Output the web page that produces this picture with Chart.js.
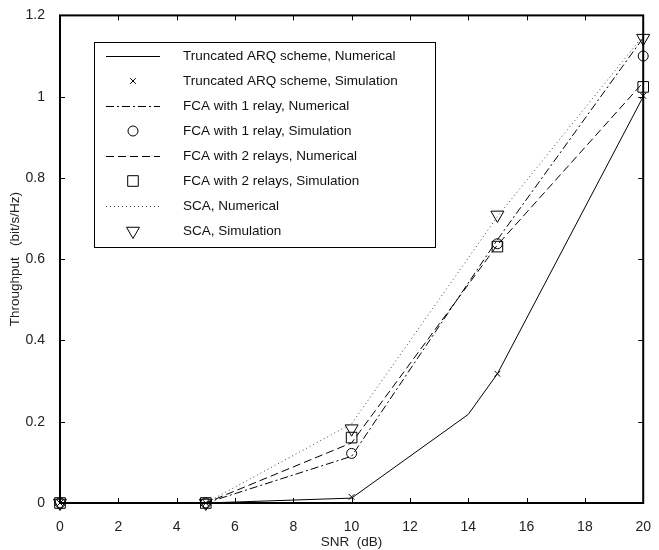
<!DOCTYPE html>
<html>
<head>
<meta charset="utf-8">
<script src="https://cdn.jsdelivr.net/npm/chart.js@4/dist/chart.umd.min.js"></script>
<style>
  html, body { margin: 0; padding: 0; background: #fff; }
  #wrap { width: 659px; height: 550px; }
</style>
</head>
<body>
<div id="wrap"><canvas id="chart" width="659" height="550"></canvas></div>
<script>
// SNR points (dB)
const snrSim = [0, 5, 10, 15, 20];
const snrArqNum = [0, 5, 10, 14, 15, 20];

// Numerical curves
const arqNum = [0, 0, 0.012, 0.218, 0.318, 1.0];
const fca1Num = [0, 0, 0.115, 0.648, 1.145];
const fca2Num = [0, 0, 0.148, 0.635, 1.035];
const scaNum = [0, 0, 0.195, 0.705, 1.15];

// Simulation points
const arqSim = [0, 0, 0.015, 0.318, 1.002];
const fca1Sim = [0, 0, 0.122, 0.638, 1.10];
const fca2Sim = [0, 0, 0.161, 0.631, 1.024];
const scaSim = [0, 0, 0.183, 0.709, 1.144];

// Axis ticks
const xTicks = [0, 2, 4, 6, 8, 10, 12, 14, 16, 18, 20];
const yTicks = [0, 0.2, 0.4, 0.6, 0.8, 1.0, 1.2];

const FONT = 'Arial, "Liberation Sans", sans-serif';

function pts(xs, ys) {
  return xs.map((x, i) => ({ x, y: ys[i] }));
}

function numLine(label, xs, ys, dash, color) {
  return {
    label,
    data: pts(xs, ys),
    borderColor: color || '#000',
    borderWidth: 1,
    borderDash: dash,
    pointRadius: 0,
    fill: false,
    tension: 0,
  };
}

function simPoints(label, ys, style, radius, rotation) {
  return {
    label,
    data: pts(snrSim, ys),
    showLine: false,
    pointStyle: style,
    pointRadius: radius,
    pointRotation: rotation || 0,
    pointBorderColor: '#000',
    pointBackgroundColor: 'rgba(0,0,0,0)',
    pointBorderWidth: 1,
    clip: false,
  };
}

// Inward ticks and full frame, MATLAB style
const framePlugin = {
  id: 'frame',
  afterDatasetsDraw(chart) {
    const { ctx, chartArea: a, scales } = chart;
    ctx.save();
    ctx.strokeStyle = '#000';
    ctx.lineWidth = 1;
    ctx.beginPath();
    xTicks.forEach((v) => {
      const px = Math.round(scales.x.getPixelForValue(v)) + 0.5;
      ctx.moveTo(px, a.bottom); ctx.lineTo(px, a.bottom - 5);
      ctx.moveTo(px, a.top); ctx.lineTo(px, a.top + 5);
    });
    yTicks.forEach((v) => {
      const py = Math.round(scales.y.getPixelForValue(v)) + 0.5;
      ctx.moveTo(a.left, py); ctx.lineTo(a.left + 5, py);
      ctx.moveTo(a.right, py); ctx.lineTo(a.right - 5, py);
    });
    ctx.stroke();
    ctx.lineWidth = 2;
    ctx.strokeRect(a.left, a.top, a.right - a.left, a.bottom - a.top);
    ctx.restore();
  },
};

// Boxed legend inside the plot
const boxLegendPlugin = {
  id: 'boxLegend',
  afterDraw(chart) {
    const { ctx } = chart;
    ctx.save();
    ctx.fillStyle = '#fff';
    ctx.fillRect(94.5, 42.5, 341, 205);
    ctx.strokeStyle = '#000';
    ctx.lineWidth = 1;
    ctx.strokeRect(94.5, 42.5, 341, 205);
    chart.data.datasets.forEach((ds, i) => {
      const y = 56 + 25 * i;
      ctx.strokeStyle = '#000';
      if (ds.showLine === false) {
        ctx.fillStyle = 'rgba(0,0,0,0)';
        Chart.helpers.drawPoint(ctx, {
          pointStyle: ds.pointStyle,
          radius: ds.pointRadius,
          rotation: ds.pointRotation,
          borderWidth: 1,
        }, 133, y);
      } else {
        ctx.strokeStyle = ds.borderColor;
        ctx.lineWidth = 1;
        ctx.setLineDash(ds.borderDash || []);
        ctx.beginPath();
        ctx.moveTo(106, y + 0.5);
        ctx.lineTo(160, y + 0.5);
        ctx.stroke();
        ctx.setLineDash([]);
      }
      ctx.fillStyle = '#111';
      ctx.font = '13.5px ' + FONT;
      ctx.textAlign = 'left';
      ctx.textBaseline = 'middle';
      ctx.fillText(ds.label, 183, y);
    });
    ctx.restore();
  },
};

const ctx = document.getElementById('chart');
new Chart(ctx, {
  type: 'line',
  data: {
    datasets: [
      numLine('Truncated ARQ scheme, Numerical', snrArqNum, arqNum, []),
      simPoints('Truncated ARQ scheme, Simulation', arqSim, 'crossRot', 4),
      numLine('FCA with 1 relay, Numerical', snrSim, fca1Num, [8, 3, 2, 3]),
      simPoints('FCA with 1 relay, Simulation', fca1Sim, 'circle', 5),
      numLine('FCA with 2 relays, Numerical', snrSim, fca2Num, [8, 4]),
      simPoints('FCA with 2 relays, Simulation', fca2Sim, 'rect', 7.5),
      numLine('SCA, Numerical', snrSim, scaNum, [1, 3], '#444'),
      simPoints('SCA, Simulation', scaSim, 'triangle', 7.5, 180),
    ],
  },
  options: {
    responsive: false,
    animation: false,
    events: [],
    layout: { padding: { left: 0, right: 9, top: 12, bottom: 0 } },
    plugins: {
      legend: { display: false },
      tooltip: { enabled: false },
    },
    scales: {
      x: {
        type: 'linear',
        min: 0,
        max: 20,
        afterFit(scale) { scale.height = 47; },
        afterBuildTicks(scale) { scale.ticks = xTicks.map((v) => ({ value: v })); },
        grid: { display: false },
        border: { display: false },
        ticks: {
          padding: 8,
          maxRotation: 0,
          color: '#222',
          font: { family: FONT, size: 14 },
          callback: (v) => String(v),
        },
        title: {
          display: true,
          text: 'SNR  (dB)',
          color: '#222',
          padding: { top: 0, bottom: 0 },
          font: { family: FONT, size: 13.5 },
        },
      },
      y: {
        type: 'linear',
        min: 0,
        max: 1.2,
        afterFit(scale) { scale.width = 60; },
        afterBuildTicks(scale) { scale.ticks = yTicks.map((v) => ({ value: v })); },
        grid: { display: false },
        border: { display: false },
        ticks: {
          padding: 7,
          color: '#222',
          font: { family: FONT, size: 14 },
          callback: (v) => String(Number(v.toFixed(1))),
        },
        title: {
          display: true,
          text: 'Throughput   (bit/s/Hz)',
          color: '#222',
          padding: { top: 7, bottom: 0 },
          font: { family: FONT, size: 13.5 },
        },
      },
    },
  },
  plugins: [framePlugin, boxLegendPlugin],
});
</script>
</body>
</html>
